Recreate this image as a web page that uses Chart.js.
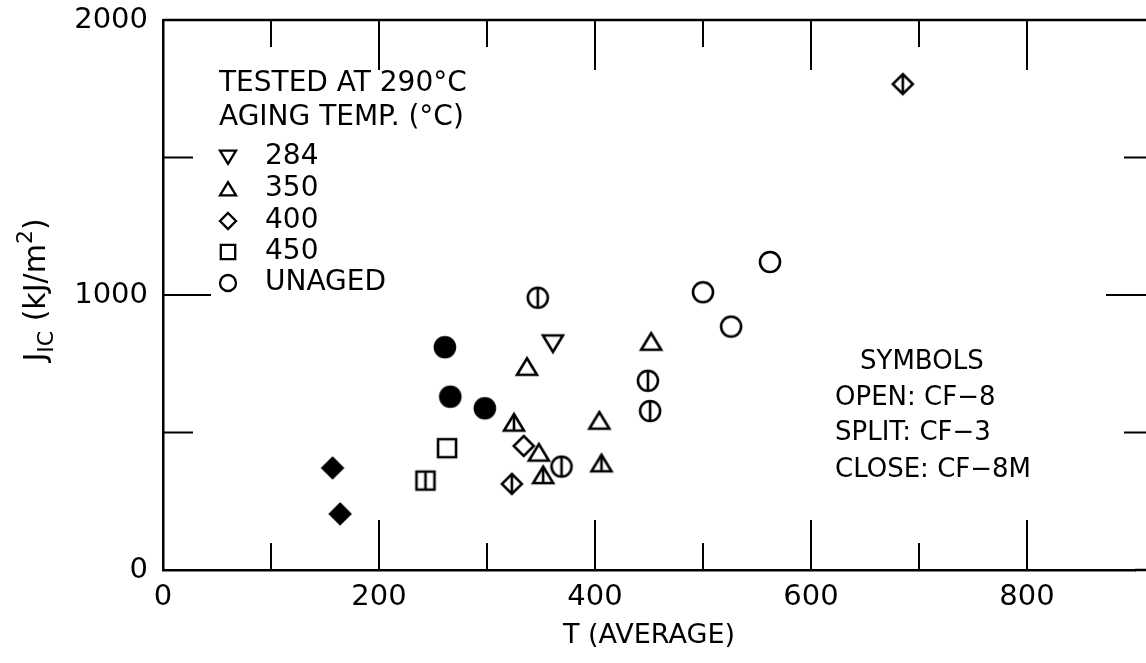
<!DOCTYPE html>
<html>
<head>
<meta charset="utf-8">
<script src="https://cdn.jsdelivr.net/npm/chart.js@4.4.1/dist/chart.umd.min.js"></script>
<style>
  html, body { margin: 0; padding: 0; background: #fff; }
</style>
</head>
<body>
<canvas id="myChart" width="1146" height="663"></canvas>
<script>
///// J_IC vs T (AVERAGE) scatter /////

// Data: [T (average), J_IC kJ/m2]
const cf8Unaged   = [[500, 1010], [526, 885], [562, 1120]];
const cf3Unaged   = [[347, 990], [449, 688], [451, 578], [369, 376]];
const cf8mUnaged  = [[261, 810], [266, 630], [298, 588]];
const cf8Aged284  = [[361, 824]];
const cf8Aged350  = [[337, 739], [452, 830], [404, 543], [348, 427]];
const cf3Aged350  = [[325, 536], [406, 388], [352, 345]];
const cf8Aged400  = [[334, 451]];
const cf3Aged400  = [[323, 313], [685, 1767]];
const cf8mAged400 = [[157, 371], [164, 204]];
const cf8Aged450  = [[263, 443]];
const cf3Aged450  = [[243, 325]];

const xTickLabels = [0, 200, 400, 600, 800];
const yTickLabels = [0, 1000, 2000];
const agingLabels = ['284', '350', '400', '450', 'UNAGED'];
const agingShapes = ['triDown', 'triUp', 'diamond', 'square', 'circle'];
const headerLines = ['TESTED AT 290°C', 'AGING TEMP. (°C)'];
const symbolLines = ['SYMBOLS', 'OPEN: CF−8', 'SPLIT: CF−3', 'CLOSE: CF−8M'];

const FONT = '"DejaVu Sans", sans-serif';

// draw a marker into a little canvas, used as pointStyle
function makeSymbol(shape, mode, size, lw) {
    const c = document.createElement('canvas');
    const s = Math.ceil(size + 8);
    c.width = s; c.height = s;
    const g = c.getContext('2d');
    const m = s / 2, r = size / 2;
    g.lineWidth = lw || 2.6;
    g.strokeStyle = '#000';
    g.fillStyle = '#000';
    let top = m - r, bot = m + r;
    g.beginPath();
    if (shape === 'circle') {
        g.arc(m, m, r, 0, Math.PI * 2);
    } else if (shape === 'square') {
        g.rect(m - r * 0.9, m - r * 0.9, r * 1.8, r * 1.8);
        top = m - r * 0.9; bot = m + r * 0.9;
    } else if (shape === 'diamond') {
        g.moveTo(m, m - r); g.lineTo(m + r, m); g.lineTo(m, m + r); g.lineTo(m - r, m);
        g.closePath();
    } else if (shape === 'triUp') {
        g.moveTo(m, m - r * 0.85); g.lineTo(m + r, m + r * 0.8); g.lineTo(m - r, m + r * 0.8);
        g.closePath();
        top = m - r * 0.85; bot = m + r * 0.8;
    } else if (shape === 'triDown') {
        g.moveTo(m, m + r * 0.85); g.lineTo(m + r, m - r * 0.8); g.lineTo(m - r, m - r * 0.8);
        g.closePath();
        top = m - r * 0.8; bot = m + r * 0.85;
    }
    if (mode === 'close') g.fill();
    g.stroke();
    if (mode === 'split') {
        g.beginPath();
        g.moveTo(m, top); g.lineTo(m, bot);
        g.stroke();
    }
    return c;
}

function toPts(arr) {
    return arr.map(p => ({x: p[0], y: p[1]}));
}

function ds(label, arr, shape, mode) {
    return {
        label: label,
        data: toPts(arr),
        pointStyle: makeSymbol(shape, mode, 20),
        pointRadius: 10,
        showLine: false
    };
}

// inward ticks, top frame, legend texts, y title
const decorations = {
    id: 'decorations',
    afterDatasetsDraw(chart) {
        const {ctx, chartArea: a, scales: {x, y}} = chart;
        const edge = chart.width; // right frame sits just off the picture
        ctx.save();
        ctx.strokeStyle = '#000';
        ctx.lineWidth = 2.5;
        ctx.beginPath();
        ctx.moveTo(a.left, a.top); ctx.lineTo(edge, a.top);
        ctx.moveTo(a.right, a.bottom); ctx.lineTo(edge, a.bottom);
        ctx.stroke();
        ctx.lineWidth = 2;
        ctx.beginPath();
        for (let v = 100; v < 900; v += 100) {
            const px = x.getPixelForValue(v);
            const len = v % 200 === 0 ? 50 : 27;
            ctx.moveTo(px, a.bottom); ctx.lineTo(px, a.bottom - len);
            ctx.moveTo(px, a.top); ctx.lineTo(px, a.top + len);
        }
        for (let v = 500; v < 2000; v += 500) {
            const py = y.getPixelForValue(v);
            const len = v % 1000 === 0 ? 40 : 22;
            ctx.moveTo(a.left, py); ctx.lineTo(a.left + len + 8, py);
            ctx.moveTo(edge, py); ctx.lineTo(edge - len, py);
        }
        ctx.stroke();

        // aging legend, upper left
        ctx.fillStyle = '#000';
        ctx.font = '28px ' + FONT;
        ctx.textBaseline = 'middle';
        ctx.textAlign = 'left';
        ctx.fillText(headerLines[0], 219, 84);
        ctx.fillText(headerLines[1], 219, 118);
        const rows = [157, 189, 221, 252, 283];
        agingLabels.forEach((lab, i) => {
            const img = makeSymbol(agingShapes[i], 'open', 16, 2.3);
            ctx.drawImage(img, 228 - img.width / 2, rows[i] - img.height / 2);
            ctx.fillText(lab, 265, rows[i]);
        });

        // symbols key, lower right
        ctx.font = '26px ' + FONT;
        ctx.fillText(symbolLines[0], 860, 362);
        ctx.fillText(symbolLines[1], 835, 398);
        ctx.fillText(symbolLines[2], 835, 433);
        ctx.fillText(symbolLines[3], 835, 470);

        // y axis title with sub/superscript
        ctx.translate(45, 290);
        ctx.rotate(-Math.PI / 2);
        ctx.textBaseline = 'alphabetic';
        const big = '30px ' + FONT, small = '22px ' + FONT;
        const parts = [['J', big, 0], ['IC', small, 8], [' (kJ/m', big, 0], ['2', small, -13], [')', big, 0]];
        let w = 0;
        parts.forEach(p => { ctx.font = p[1]; w += ctx.measureText(p[0]).width; });
        let cx = -w / 2;
        parts.forEach(p => {
            ctx.font = p[1];
            ctx.fillText(p[0], cx, p[2]);
            cx += ctx.measureText(p[0]).width;
        });
        ctx.restore();
    }
};

const myChart = new Chart(document.getElementById('myChart'), {
    type: 'scatter',
    data: {
        datasets: [
            ds('Unaged CF-8', cf8Unaged, 'circle', 'open'),
            ds('Unaged CF-3', cf3Unaged, 'circle', 'split'),
            ds('Unaged CF-8M', cf8mUnaged, 'circle', 'close'),
            ds('284 CF-8', cf8Aged284, 'triDown', 'open'),
            ds('350 CF-8', cf8Aged350, 'triUp', 'open'),
            ds('350 CF-3', cf3Aged350, 'triUp', 'split'),
            ds('400 CF-8', cf8Aged400, 'diamond', 'open'),
            ds('400 CF-3', cf3Aged400, 'diamond', 'split'),
            ds('400 CF-8M', cf8mAged400, 'diamond', 'close'),
            ds('450 CF-8', cf8Aged450, 'square', 'open'),
            ds('450 CF-3', cf3Aged450, 'square', 'split')
        ]
    },
    options: {
        responsive: false,
        animation: false,
        layout: { padding: { top: 20, right: 0, bottom: 0, left: 0 } },
        plugins: {
            legend: { display: false },
            tooltip: { enabled: false }
        },
        scales: {
            x: {
                type: 'linear',
                min: 0,
                max: 900,
                grid: { display: false },
                border: { display: true, color: '#000', width: 2.5 },
                ticks: {
                    stepSize: 100,
                    maxRotation: 0,
                    autoSkip: false,
                    padding: 2,
                    color: '#000',
                    font: { family: FONT, size: 29 },
                    callback: v => xTickLabels.includes(v) ? String(v) : ''
                },
                title: {
                    display: true,
                    text: 'T (AVERAGE)',
                    color: '#000',
                    font: { family: FONT, size: 27 },
                    padding: { top: 0, bottom: 11 }
                },
                afterFit: s => { s.height = 93; s.paddingRight = 0; }
            },
            y: {
                type: 'linear',
                min: 0,
                max: 2000,
                grid: { display: false },
                border: { display: true, color: '#000', width: 2.5 },
                ticks: {
                    stepSize: 500,
                    autoSkip: false,
                    padding: 7,
                    color: '#000',
                    font: { family: FONT, size: 29, lineHeight: 0.4 },
                    callback: v => yTickLabels.includes(v) ? String(v) : ''
                },
                afterFit: s => { s.width = 163; }
            }
        }
    },
    plugins: [decorations]
});
</script>
</body>
</html>
